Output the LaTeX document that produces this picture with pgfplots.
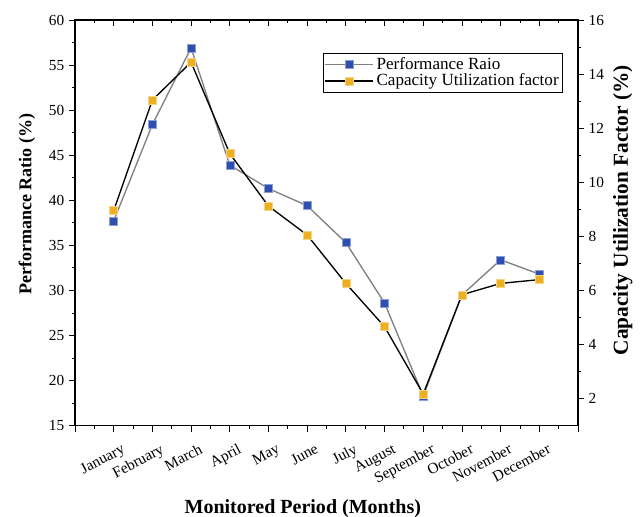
\documentclass[border=0pt]{standalone}
\usepackage{fontspec}
\setmainfont{Liberation Serif}
\usepackage{pgfplots}
\pgfplotsset{compat=1.18}
\definecolor{prblue}{RGB}{47,79,175}
\definecolor{cuforange}{RGB}{236,176,34}
\pgfplotsset{
  common/.style={
    width=377pt, height=304pt, scale only axis,
    xmin=0, xmax=13,
    xtick={0,...,13},
    minor x tick num=1,
    /pgf/number format/assume math mode=true,
    tick label style={font=\fontsize{11.5}{13}\selectfont},
    major tick length=4.5pt, minor tick length=2.5pt,
    every tick/.style={black, line width=0.6pt},
    axis line style={line width=0.8pt},
  },
  prstyle/.style={gray, line width=1pt, mark=square*, mark size=3pt,
    mark options={fill=prblue, draw=prblue!55!white, line width=0.3pt, solid}},
  custyle/.style={black, line width=1pt, mark=square*, mark size=3pt,
    mark options={fill=cuforange, draw=cuforange!55!white, line width=0.3pt, solid}},
}

\begin{document}
\begin{tikzpicture}
  % left axis: performance ratio
  \begin{axis}[
      common,
      ymin=15, ymax=60,
      ytick={15,20,...,60},
      minor y tick num=1,
      xtick pos=bottom, ytick pos=left,
      tick align=outside,
      xticklabels={,January,February,March,April,May,June,July,August,September,October,November,December,},
      x tick label style={rotate=28, anchor=north east, inner sep=2pt,
        xshift=3pt, yshift=-8pt},
      xlabel={Monitored Period (Months)},
      ylabel={Performance Ratio (\%)},
      x label style={font=\fontsize{15}{17}\selectfont\bfseries,
        at={(axis description cs:0.453,-0.205)}, anchor=center},
      y label style={font=\fontsize{13.5}{15}\selectfont\bfseries,
        at={(axis description cs:-0.0955,0.546)}, anchor=center},
    ]
    \addplot[prstyle] coordinates {
      (1,37.7)(2,48.4)(3,56.9)(4,43.9)(5,41.3)(6,39.4)
      (7,35.3)(8,28.6)(9,18.3)(10,29.5)(11,33.4)(12,31.8)
    };
  \end{axis}
  % right axis: capacity utilization factor
  \begin{axis}[
      common,
      ymin=1, ymax=16,
      ytick={2,4,...,16},
      minor y tick num=1,
      xtick=\empty,
      ytick pos=right, yticklabel pos=right,
      tick align=outside,
      ylabel={Capacity Utilization Factor (\%)},
      y label style={font=\fontsize{16}{18}\selectfont\bfseries,
        at={(axis description cs:1.089,0.531)}, anchor=center},
      legend style={at={(0.493,0.919)}, anchor=north west, draw=black,
        line width=0.6pt, font=\fontsize{12.8}{14}\selectfont,
        inner sep=1pt, row sep=-2pt},
      legend cell align=left,
      legend image code/.code={
        \draw[mark repeat=2, mark phase=2, #1]
          plot coordinates {(0cm,0cm) (0.63cm,0cm) (1.26cm,0cm)};},
    ]
    \addlegendimage{prstyle}
    \addlegendentry{Performance Raio}
    \addplot[custyle] coordinates {
      (1,8.95)(2,13.04)(3,14.44)(4,11.06)(5,9.12)(6,8.05)
      (7,6.26)(8,4.66)(9,2.17)(10,5.84)(11,6.26)(12,6.40)
    };
    \addlegendentry{Capacity Utilization factor}
  \end{axis}
  % top edge ticks, pointing inward
  \begin{axis}[
      common,
      ymin=0, ymax=1,
      ytick=\empty,
      xtick pos=top,
      xticklabels={},
      tick align=inside,
    ]
  \end{axis}
  % page margins as in the reference
  \pgfresetboundingbox
  \path (-56.2pt,-68.2pt) rectangle (425.7pt,319pt);
\end{tikzpicture}
\end{document}
